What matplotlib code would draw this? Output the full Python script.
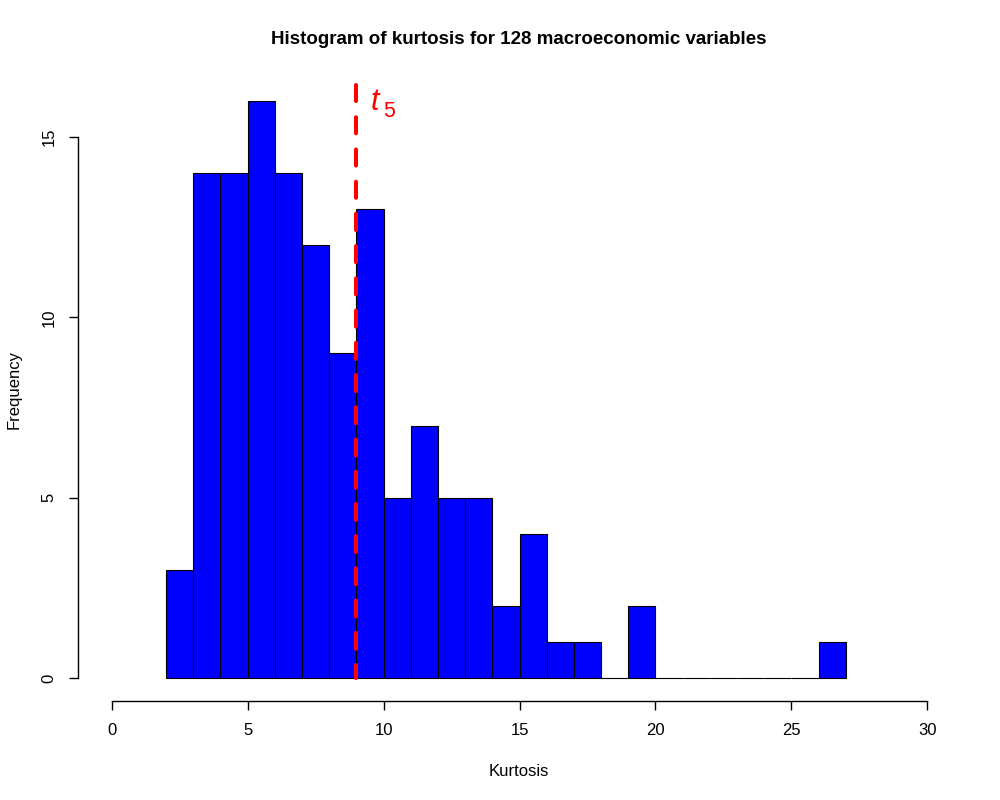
import matplotlib
matplotlib.use("Agg")
import matplotlib.pyplot as plt
import numpy as np

plt.rcParams['font.family'] = ['Liberation Sans', 'DejaVu Sans']

# Histogram data (bins of width 1 from 2 to 27)
bin_edges = list(range(2, 28))
counts = [3, 14, 14, 16, 14, 12, 9, 13, 5, 7, 5, 5, 2, 4, 1, 1, 0, 2,
          0, 0, 0, 0, 0, 0, 1]
t5_kurtosis = 9
title = "Histogram of kurtosis for 128 macroeconomic variables"
x_label = "Kurtosis"
y_label = "Frequency"
x_ticks = [0, 5, 10, 15, 20, 25, 30]
y_ticks = [0, 5, 10, 15]

fig = plt.figure(figsize=(10, 8), dpi=100)
ax = fig.add_axes([0.078, 0.1236, 0.882, 0.779])

lefts = np.array(bin_edges[:-1])
widths = np.diff(bin_edges)
ax.bar(lefts, counts, width=widths, align='edge', color='#0000ff',
       edgecolor='black', linewidth=0.8)

ax.plot([t5_kurtosis, t5_kurtosis], [16.44, 0], color='#ff0000',
        linewidth=2.9, dashes=(4, 4), dash_capstyle='round', solid_capstyle='round')
ax.text(9.52, 15.75, 't', color='#ff0000', fontsize=22, fontstyle='italic',
        ha='left', va='baseline')
ax.text(9.97, 15.55, '5', color='#ff0000', fontsize=15.5,
        ha='left', va='baseline')

ax.set_xlim(-1.24, 31.2)
ax.set_ylim(-0.64, 16.64)
for s in ['top', 'right']:
    ax.spines[s].set_visible(False)
ax.spines['bottom'].set_bounds(0, 30)
ax.spines['left'].set_bounds(0, 15)
for s in ['bottom', 'left']:
    ax.spines[s].set_linewidth(1.0)
ax.set_xticks(x_ticks)
ax.set_yticks(y_ticks)
ax.tick_params(axis='both', direction='out', length=6.5, width=1.0,
               labelsize=12, pad=9)
for lab in ax.get_yticklabels():
    lab.set_rotation(90)
    lab.set_va('center')
    lab.set_ha('right')

fig.text(0.519, 1 - 40/800, title, ha='center', va='center',
         fontsize=13.5, fontweight='bold')
fig.text(0.519, 1 - 771/800, x_label, ha='center', va='center', fontsize=12)
fig.text(14/1000, 0.1236 + 0.779/2, y_label, ha='center', va='center',
         fontsize=12, rotation=90)

fig.savefig('out.png', dpi=100)
